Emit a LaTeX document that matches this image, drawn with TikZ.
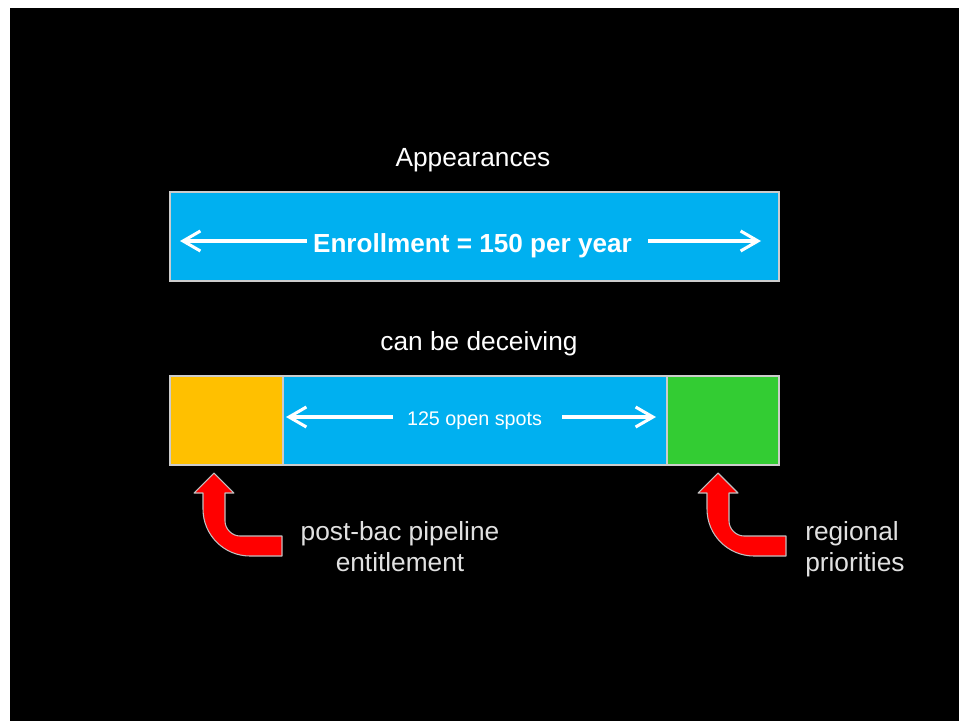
\documentclass[tikz,border=0pt]{standalone}
\usepackage{fontspec}
\setmainfont{Liberation Sans}
\usetikzlibrary{arrows.meta}
\tikzset{>={Straight Barb[length=13pt,width=15pt]}}

\definecolor{barblue}{RGB}{0,176,240}
\definecolor{barorange}{RGB}{255,192,0}
\definecolor{bargreen}{RGB}{51,204,51}
\definecolor{bendred}{RGB}{255,0,0}
\definecolor{labelgray}{RGB}{225,225,225}

\tikzset{
  bar/.style={draw=white!80!black, line width=1.1pt},
  barrow/.style={->, draw=white, line width=2.3pt},
  headtext/.style={text=white, font=\fontsize{19.7pt}{22.5pt}\selectfont, inner sep=0pt},
  sidetext/.style={text=labelgray, font=\fontsize{19.7pt}{23.4pt}\selectfont, inner sep=0pt},
  bentarrow/.style={fill=bendred, draw=white!75!black, line width=0.8pt, line join=round}
}

\begin{document}
\begin{tikzpicture}[x=0.75pt,y=-0.75pt]
% page and black slide
\useasboundingbox (0,0) rectangle (959,721);
\fill[white] (0,0) rectangle (959,721);
\fill[black] (10,8) rectangle (959,721);

% first bar: what it looks like
\node[headtext, anchor=base] (appear) at (473,166) {Appearances};
\draw[bar, fill=barblue] (170,192) rectangle (779,281);
\node[headtext, anchor=base, font=\bfseries\fontsize{19.6pt}{22pt}\selectfont] (enroll) at (472.5,252) {Enrollment = 150 per year};
\coordinate (enrollL) at (180,241);
\coordinate (enrollR) at (761,241);
\draw[barrow] ([xshift=-4.5pt]enroll.west |- enrollL) -- (enrollL);
\draw[barrow] ([xshift=12pt]enroll.east |- enrollR) -- (enrollR);

% second bar: what it really is
\node[headtext, anchor=base] (deceive) at (479,350) {can be deceiving};
\draw[bar, fill=barorange] (170,376) rectangle (283,465);
\draw[bar, fill=barblue] (283,376) rectangle (667,465);
\draw[bar, fill=bargreen] (667,376) rectangle (779,465);
\node[headtext, anchor=base, font=\fontsize{14.8pt}{17pt}\selectfont] (spots) at (474.5,425) {125 open spots};
\coordinate (spotsL) at (286,417);
\coordinate (spotsR) at (656,417);
\draw[barrow] ([xshift=-10.5pt]spots.west |- spotsL) -- (spotsL);
\draw[barrow] ([xshift=15pt]spots.east |- spotsR) -- (spotsR);

% bent arrows pointing up at the reserved spots
\foreach \tx in {214,718}
  \draw[bentarrow, shift={(\tx,473)}] (0,0) -- (20,20) -- (11,20) -- (11,48)
    .. controls (11,56) and (18,63) .. (26,63) -- (68,63) -- (68,83) -- (36,83)
    .. controls (10,83) and (-11,62) .. (-11,36) -- (-11,20) -- (-20,20) -- cycle;

\node[sidetext, anchor=north, align=center] (pipeline) at (400,521) {post-bac pipeline\\entitlement};
\node[sidetext, anchor=north west, align=left] (regional) at (805,521) {regional\\priorities};
\end{tikzpicture}
\end{document}
